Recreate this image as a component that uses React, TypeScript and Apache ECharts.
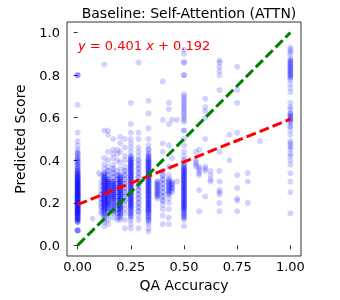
import React, { useEffect, useRef } from "react";
import * as echarts from "echarts";

// Each column: x value and [y, count] pairs
const yAt0000 = [[0.80,3],[0.66,1],[0.53,1],[0.49,1],[0.47,1],[0.45,1],[0.44,1],[0.43,2],[0.42,1],[0.41,2],[0.40,2],[0.39,2],[0.38,2],[0.37,2],[0.36,2],[0.35,3],[0.34,3],[0.33,4],[0.32,4],[0.31,4],[0.30,5],[0.29,5],[0.28,5],[0.27,5],[0.26,5],[0.25,5],[0.24,5],[0.23,5],[0.22,5],[0.21,5],[0.20,6],[0.19,5],[0.18,5],[0.17,5],[0.16,5],[0.15,5],[0.14,4],[0.13,4],[0.12,4],[0.11,3],[0.07,4]];
const yAt0070 = [[0.125,1]];
const yAt0100 = [[0.34,1]];
const yAt0111 = [[0.33,1],[0.30,1],[0.28,1],[0.26,1],[0.24,2],[0.22,2],[0.20,2],[0.18,2],[0.16,1],[0.15,1]];
const yAt0125 = [[0.85,1],[0.54,1],[0.41,1],[0.38,1],[0.36,1],[0.34,2],[0.33,2],[0.32,3],[0.31,3],[0.30,3],[0.29,3],[0.28,3],[0.27,3],[0.26,3],[0.25,3],[0.24,3],[0.23,3],[0.22,3],[0.21,3],[0.20,3],[0.19,3],[0.18,3],[0.17,3],[0.16,2],[0.15,2],[0.14,2],[0.13,1],[0.12,1],[0.11,1],[0.09,1]];
const yAt0143 = [[0.54,1],[0.52,1],[0.44,1],[0.40,1],[0.37,1],[0.35,2],[0.33,2],[0.31,3],[0.30,3],[0.29,3],[0.28,3],[0.27,3],[0.26,3],[0.25,3],[0.24,3],[0.23,3],[0.22,3],[0.21,3],[0.20,3],[0.19,3],[0.18,2],[0.17,2],[0.16,2],[0.14,1],[0.12,1],[0.10,1]];
const yAt0167 = [[0.50,1],[0.45,1],[0.43,1],[0.41,1],[0.38,1],[0.36,2],[0.34,2],[0.32,2],[0.30,3],[0.29,3],[0.28,3],[0.27,3],[0.26,3],[0.25,3],[0.24,3],[0.23,3],[0.22,3],[0.21,2],[0.20,2],[0.19,2],[0.18,2],[0.17,2],[0.16,2],[0.15,1],[0.13,1]];
const yAt0188 = [[0.45,1],[0.43,1],[0.40,1],[0.35,1],[0.33,2],[0.31,2],[0.29,2],[0.27,2],[0.25,2],[0.23,2],[0.21,2],[0.19,2],[0.17,2],[0.15,2],[0.13,1],[0.12,1]];
const yAt0200 = [[0.51,1],[0.48,1],[0.44,1],[0.39,1],[0.36,1],[0.33,2],[0.32,2],[0.31,3],[0.30,3],[0.29,3],[0.28,3],[0.27,3],[0.26,3],[0.25,3],[0.24,3],[0.23,3],[0.22,3],[0.21,3],[0.20,3],[0.19,3],[0.18,3],[0.17,3],[0.16,2],[0.15,2],[0.14,2],[0.13,1],[0.12,1]];
const yAt0222 = [[0.50,1],[0.46,1],[0.42,1],[0.40,1],[0.37,1],[0.35,2],[0.33,2],[0.31,2],[0.29,2],[0.27,2],[0.25,2],[0.23,2],[0.21,2],[0.19,1],[0.17,1],[0.15,1],[0.12,1],[0.08,1]];
const yAt0250 = [[0.67,1],[0.57,1],[0.53,1],[0.50,1],[0.48,1],[0.46,1],[0.44,1],[0.42,2],[0.41,2],[0.40,3],[0.39,3],[0.38,3],[0.37,3],[0.36,3],[0.35,3],[0.34,3],[0.33,3],[0.32,3],[0.31,3],[0.30,3],[0.29,3],[0.28,3],[0.27,3],[0.26,3],[0.25,3],[0.24,3],[0.23,3],[0.22,3],[0.21,3],[0.20,3],[0.19,3],[0.18,3],[0.17,2],[0.16,2],[0.15,2],[0.14,2],[0.13,1],[0.12,1],[0.10,1],[0.08,1]];
const yAt0286 = [[0.86,1],[0.53,1],[0.50,1],[0.46,1],[0.44,1],[0.42,1],[0.40,2],[0.38,2],[0.36,2],[0.34,2],[0.32,2],[0.30,2],[0.28,2],[0.26,2],[0.24,2],[0.22,2],[0.20,2],[0.18,2],[0.16,2],[0.14,1],[0.12,1],[0.08,1]];
const yAt0333 = [[0.68,1],[0.62,1],[0.55,1],[0.50,1],[0.47,1],[0.45,2],[0.43,2],[0.42,2],[0.41,2],[0.40,3],[0.39,3],[0.38,3],[0.37,3],[0.36,3],[0.35,3],[0.34,3],[0.33,3],[0.32,3],[0.31,3],[0.30,3],[0.29,3],[0.28,3],[0.27,3],[0.26,3],[0.25,3],[0.24,3],[0.23,3],[0.22,3],[0.21,3],[0.20,3],[0.19,3],[0.18,3],[0.17,3],[0.16,3],[0.15,2],[0.14,2],[0.13,2],[0.12,2],[0.11,1],[0.10,1],[0.08,1],[0.065,1]];
const yAt0375 = [[0.30,2],[0.29,2],[0.28,2],[0.27,2],[0.26,2],[0.25,2],[0.24,2],[0.23,2],[0.22,1]];
const yAt0400 = [[0.77,1],[0.59,1],[0.48,1],[0.44,1],[0.35,1],[0.33,2],[0.31,2],[0.29,2],[0.27,2],[0.25,2],[0.23,2],[0.21,2],[0.19,1],[0.17,1],[0.14,1],[0.10,1]];
const yAt0429 = [[0.67,1],[0.64,1],[0.57,1],[0.47,1],[0.37,1],[0.33,1],[0.31,2],[0.30,2],[0.29,2],[0.28,2],[0.27,2],[0.26,2],[0.25,2],[0.24,2],[0.22,1],[0.20,1],[0.17,1],[0.13,1],[0.10,1]];
const yAt0444 = [[0.59,1],[0.41,1],[0.30,1],[0.29,2],[0.28,1],[0.27,2],[0.26,1],[0.25,1]];
const yAt0467 = [[0.59,1],[0.30,1]];
const yAt0500 = [[0.92,1],[0.90,1],[0.86,2],[0.80,2],[0.71,1],[0.70,1],[0.69,1],[0.68,1],[0.67,1],[0.66,1],[0.65,1],[0.64,1],[0.63,1],[0.62,1],[0.61,1],[0.60,1],[0.59,1],[0.58,1],[0.54,2],[0.50,1],[0.47,1],[0.44,1],[0.42,1],[0.40,2],[0.38,2],[0.37,2],[0.36,3],[0.35,3],[0.34,3],[0.33,3],[0.32,3],[0.31,3],[0.30,3],[0.29,3],[0.28,3],[0.27,3],[0.26,3],[0.25,3],[0.24,3],[0.23,3],[0.22,3],[0.21,3],[0.20,3],[0.19,3],[0.18,3],[0.17,3],[0.16,2],[0.15,2],[0.14,2],[0.13,2],[0.12,1],[0.09,1]];
const yAt0556 = [[0.44,1],[0.40,1],[0.39,1],[0.38,1],[0.37,1]];
const yAt0571 = [[0.45,1],[0.37,1],[0.36,1],[0.35,1],[0.34,1],[0.33,1],[0.26,1],[0.16,1]];
const yAt0600 = [[0.69,1],[0.65,1],[0.63,1],[0.60,1],[0.50,1],[0.37,1],[0.36,1],[0.35,1],[0.23,1]];
const yAt0625 = [[0.35,1],[0.33,1],[0.31,1],[0.30,1]];
const yAt0667 = [[0.87,1],[0.86,1],[0.84,1],[0.82,1],[0.80,1],[0.73,1],[0.44,1],[0.35,1],[0.30,1],[0.26,1],[0.25,1],[0.24,1],[0.20,1],[0.16,1]];
const yAt0714 = [[0.52,1],[0.40,1]];
const yAt0750 = [[0.84,1],[0.73,1],[0.67,1],[0.53,1],[0.33,1],[0.27,1],[0.22,1],[0.21,1],[0.16,1]];
const yAt0800 = [[0.34,1],[0.30,1],[0.20,1]];
const yAt0857 = [[0.49,1]];
const yAt1000 = [[0.93,1],[0.92,1],[0.91,1],[0.90,1],[0.88,1],[0.87,2],[0.86,2],[0.85,2],[0.84,2],[0.83,2],[0.82,2],[0.81,2],[0.80,2],[0.79,2],[0.78,1],[0.76,1],[0.74,1],[0.72,1],[0.67,1],[0.65,1],[0.64,1],[0.62,2],[0.61,2],[0.60,2],[0.59,2],[0.58,2],[0.56,2],[0.54,1],[0.52,1],[0.49,1],[0.48,1],[0.47,1],[0.46,1],[0.45,1],[0.43,1],[0.42,1],[0.40,1],[0.38,1],[0.34,1],[0.30,1],[0.25,1],[0.15,1]];

const columns: [number, number[][]][] = [
  [0, yAt0000], [0.07, yAt0070], [0.1, yAt0100], [0.111, yAt0111], [0.125, yAt0125],
  [0.143, yAt0143], [0.167, yAt0167], [0.1875, yAt0188], [0.2, yAt0200], [0.222, yAt0222],
  [0.25, yAt0250], [0.286, yAt0286], [0.333, yAt0333], [0.375, yAt0375], [0.4, yAt0400],
  [0.429, yAt0429], [0.444, yAt0444], [0.467, yAt0467], [0.5, yAt0500], [0.556, yAt0556],
  [0.571, yAt0571], [0.6, yAt0600], [0.625, yAt0625], [0.667, yAt0667], [0.714, yAt0714],
  [0.75, yAt0750], [0.8, yAt0800], [0.857, yAt0857], [1.0, yAt1000],
];

const fitSlope = 0.401;
const fitIntercept = 0.192;
const xTicks = [0, 0.25, 0.5, 0.75, 1.0];
const yTicks = [0, 0.2, 0.4, 0.6, 0.8, 1.0];
const titleText = "Baseline: Self-Attention (ATTN)";
const xName = "QA Accuracy";
const yName = "Predicted Score";

const FONT = "DejaVu Sans";

export default function App() {
  const ref = useRef<HTMLDivElement>(null);
  useEffect(() => {
    if (!ref.current) return;
    const chart = echarts.init(ref.current, undefined, { renderer: "svg" });
    const points: number[][] = [];
    columns.forEach(([x, pairs]) => {
      pairs.forEach(([y, n]) => {
        for (let i = 0; i < n; i++) points.push([x, y]);
      });
    });
    const fitLine = [[0, fitIntercept], [1, fitIntercept + fitSlope]];
    const identity = [[0, 0], [1, 1]];
    chart.setOption({
      animation: false,
      title: [
        {
          text: titleText,
          left: 184,
          textAlign: "center",
          top: 1,
          textStyle: { fontFamily: FONT, fontSize: 14, fontWeight: "normal", color: "#000" },
        },
        {
          text: "{i|y} = 0.401 {i|x} + 0.192",
          left: 73,
          top: 34,
          textStyle: {
            fontFamily: FONT, fontSize: 13, fontWeight: "normal", color: "#ff0000",
            rich: { i: { fontFamily: FONT, fontSize: 13, fontStyle: "italic", color: "#ff0000" } },
          },
        },
      ],
      grid: { left: 67, right: 39, top: 22, bottom: 44, show: true, borderColor: "#333", borderWidth: 1, backgroundColor: "transparent" },
      xAxis: {
        type: "value", min: -0.05, max: 1.05,
        name: xName, nameLocation: "middle", nameGap: 19,
        nameTextStyle: { fontFamily: FONT, fontSize: 14, color: "#000" },
        axisLine: { show: false },
        splitLine: { show: false },
        axisTick: { show: true, length: 4, lineStyle: { color: "#333" }, customValues: xTicks },
        axisLabel: { fontFamily: FONT, fontSize: 13, color: "#000", margin: 4, customValues: xTicks, formatter: (v: number) => v.toFixed(2) },
      },
      yAxis: {
        type: "value", min: -0.05, max: 1.05,
        name: yName, nameLocation: "middle", nameGap: 40,
        nameTextStyle: { fontFamily: FONT, fontSize: 14, color: "#000" },
        axisLine: { show: false },
        splitLine: { show: false },
        axisTick: { show: true, length: 4, lineStyle: { color: "#333" }, customValues: yTicks },
        axisLabel: { fontFamily: FONT, fontSize: 13, color: "#000", margin: 7, customValues: yTicks, formatter: (v: number) => v.toFixed(1) },
      },
      series: [
        {
          type: "scatter", data: points, symbolSize: 6,
          itemStyle: { color: "rgba(0,0,255,0.22)", borderWidth: 0 },
          silent: true,
        },
        {
          type: "line", data: fitLine, showSymbol: false, symbol: "none",
          lineStyle: { color: "#ff0000", width: 3, type: [10, 4] }, z: 3,
        },
        {
          type: "line", data: identity, showSymbol: false, symbol: "none",
          lineStyle: { color: "#008000", width: 3, type: [10, 4] }, z: 4,
        },
      ],
    });
    return () => chart.dispose();
  }, []);
  return <div ref={ref} style={{ position: "fixed", left: 0, top: 0, width: 340, height: 300 }} />;
}
